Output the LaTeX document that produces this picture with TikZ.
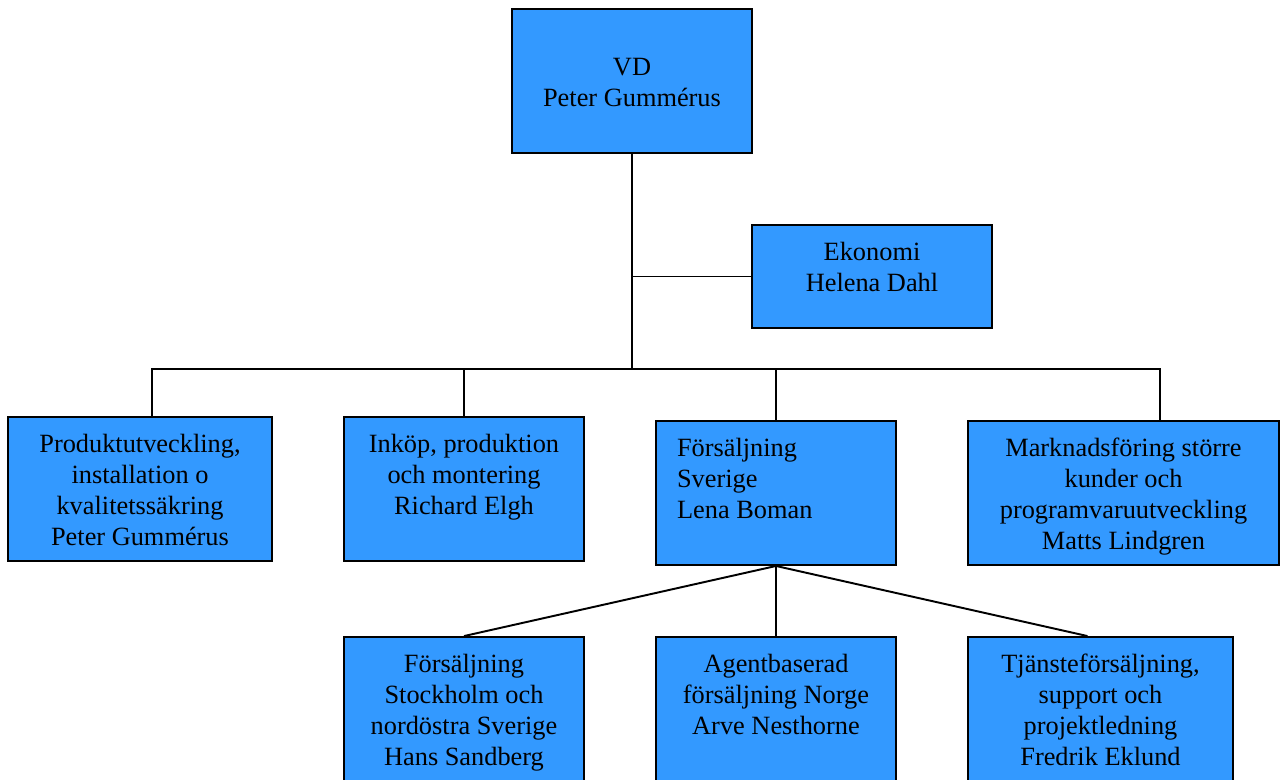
\documentclass[tikz,border=0pt]{standalone}
\usepackage{fontspec}
\setmainfont{Liberation Serif}
\definecolor{boxblue}{RGB}{51,153,255}
\newcommand{\orgtxt}[4][\centering]{\parbox[c][#2][t]{#3}{#1\vspace*{8.15pt}\strut #4}}

\begin{document}
\begin{tikzpicture}[x = 0.02cm, y = -0.02cm,
        orgbox/.style = {draw = black, fill = boxblue, line width = 1.1pt, inner sep = 0pt,
            font = \fontsize{15pt}{17.5pt}\selectfont},
        link/.style = {black, line width = 1.1pt}]
        \useasboundingbox (0,0) rectangle (1280,779);
        \clip (0,0) rectangle (1280,779);

        \node[orgbox, minimum width = 4.8cm] (vd) at (632,81) {\orgtxt{2.88cm}{4.5cm}{\mbox{}\\VD\\Peter Gummérus}};
        \node[orgbox, minimum width = 4.8cm] (ekonomi) at (872,276.5) {\orgtxt{2.06cm}{4.5cm}{Ekonomi\\Helena Dahl}};

        \node[orgbox, minimum width = 5.28cm] (produkt) at (140,489) {\orgtxt{2.88cm}{4.98cm}{Produktutveckling,\\installation o\\kvalitetssäkring\\Peter Gummérus}};
        \node[orgbox, minimum width = 4.8cm] (inkop) at (464,489) {\orgtxt{2.88cm}{4.5cm}{Inköp, produktion\\och montering\\Richard Elgh}};
        \node[orgbox, minimum width = 4.8cm] (sverige) at (776,493) {\orgtxt[\raggedright]{2.88cm}{3.96cm}{Försäljning\\Sverige\\Lena Boman}};
        \node[orgbox, minimum width = 6.22cm] (marknad) at (1123.5,493) {\orgtxt{2.88cm}{5.92cm}{Marknadsföring större\\kunder och\\programvaruutveckling\\Matts Lindgren}};

        \node[orgbox, minimum width = 4.8cm] (stockholm) at (464,709) {\orgtxt{2.88cm}{4.5cm}{Försäljning\\Stockholm och\\nordöstra Sverige\\Hans Sandberg}};
        \node[orgbox, minimum width = 4.8cm] (norge) at (776,709) {\orgtxt{2.88cm}{4.5cm}{Agentbaserad\\försäljning Norge\\Arve Nesthorne}};
        \node[orgbox, minimum width = 5.3cm] (tjanst) at (1100.5,709) {\orgtxt{2.88cm}{5cm}{Tjänsteförsäljning,\\support och\\projektledning\\Fredrik Eklund}};

        \coordinate (split) at (632,369);
        \coordinate (left end) at (152,369);
        \coordinate (right end) at (1160,369);

        \draw[link] (vd.south) -- (split);
        \draw[link] (vd.south |- ekonomi.west) -- (ekonomi.west);
        \draw[link] (produkt.north -| left end) -- (left end) -- (right end) -- (right end |- marknad.north);
        \draw[link] (inkop.north |- split) -- (inkop.north);
        \draw[link] (sverige.north |- split) -- (sverige.north);
        \draw[link] (sverige.south) -- (stockholm.north);
        \draw[link] (sverige.south) -- (norge.north);
        \draw[link] (sverige.south) -- ([xshift=-0.26cm]tjanst.north);
    \end{tikzpicture}
\end{document}
